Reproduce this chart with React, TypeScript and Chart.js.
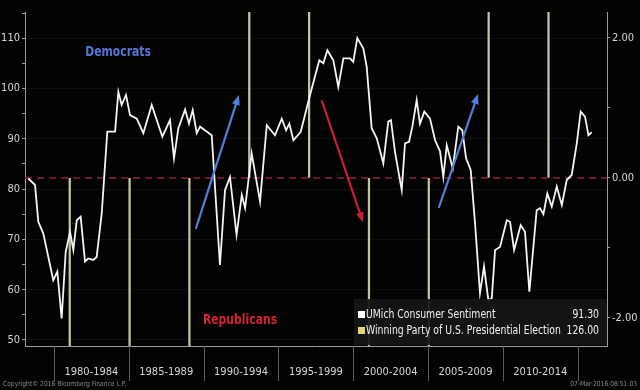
import React, { useEffect, useRef } from "react";
import { Chart, registerables } from "chart.js";

Chart.register(...registerables);

// ---- Data ----
const sentimentYears = [
  1978.28, 1978.73, 1978.95, 1979.28, 1979.95, 1980.22, 1980.51, 1980.78, 1981.07, 1981.29,
  1981.52, 1981.78, 1982.07, 1982.29, 1982.63, 1982.85, 1983.19, 1983.56, 1984.08, 1984.3,
  1984.52, 1984.81, 1985.08, 1985.53, 1985.97, 1986.53, 1987.24, 1987.75, 1988.02, 1988.31,
  1988.76, 1989.02, 1989.27, 1989.54, 1989.76, 1990.54, 1991.09, 1991.43, 1991.76, 1992.2,
  1992.55, 1992.77, 1993.21, 1993.77, 1994.22, 1994.77, 1995.22, 1995.51, 1995.73, 1996.0,
  1996.49, 1997.11, 1997.73, 1998.0, 1998.27, 1998.67, 1999.0, 1999.34, 1999.78, 2000.0,
  2000.27, 2000.67, 2000.9, 2001.23, 2001.57, 2002.01, 2002.34, 2002.52, 2002.79, 2003.24,
  2003.46, 2003.73, 2003.95, 2004.24, 2004.46, 2004.75, 2005.13, 2005.47, 2005.8, 2006.02,
  2006.25, 2006.65, 2007.02, 2007.29, 2007.54, 2007.85, 2008.14, 2008.47, 2008.74, 2009.03,
  2009.26, 2009.48, 2009.81, 2010.26, 2010.48, 2010.75, 2011.19, 2011.48, 2011.77, 2012.26,
  2012.48, 2012.71, 2012.97, 2013.27, 2013.6, 2013.94, 2014.27, 2014.6, 2014.94, 2015.2,
  2015.49, 2015.72, 2015.94,
];
const sentimentValues = [
  82.1, 80.8, 73.5, 71.2, 61.9, 63.6, 54.3, 67.5, 71.5, 67.9,
  73.8, 74.5, 65.6, 66.2, 65.9, 66.5, 75.2, 91.4, 91.4, 99.3,
  96.7, 98.7, 94.7, 94.0, 91.1, 96.7, 90.4, 93.7, 86.1, 92.1,
  95.8, 93.0, 95.7, 91.1, 92.4, 90.7, 64.9, 79.8, 82.4, 70.9,
  78.8, 76.2, 87.1, 77.5, 92.7, 90.7, 94.0, 91.7, 93.0, 89.7,
  91.4, 98.7, 105.6, 105.0, 107.6, 105.6, 100.3, 106.0, 106.0, 105.3,
  110.0, 108.0, 104.3, 92.1, 90.1, 85.1, 93.4, 93.7, 87.4, 79.8,
  89.1, 89.4, 92.4, 97.7, 93.0, 95.4, 94.0, 89.7, 87.5, 82.4,
  88.7, 84.1, 92.4, 91.7, 86.1, 83.8, 73.2, 59.3, 64.6, 57.9,
  58.3, 67.9, 68.5, 73.8, 73.5, 67.9, 72.8, 71.5, 59.6, 75.8,
  76.2, 75.0, 79.1, 76.5, 80.5, 76.8, 81.8, 82.8, 89.1, 95.4,
  94.4, 90.7, 91.3,
];
const electionYears = [1981.05, 1985.05, 1989.05, 1993.05, 1997.05, 2001.05, 2005.05, 2009.05, 2013.05];
const winningParty = ["R", "R", "R", "D", "D", "R", "R", "D", "D"];
const periodSeparators = [1980, 1985, 1990, 1995, 2000, 2005, 2010, 2015];
const periodLabels = ["1980-1984", "1985-1989", "1990-1994", "1995-1999", "2000-2004", "2005-2009", "2010-2014"];
const periodCenters = [1982.5, 1987.5, 1992.5, 1997.5, 2002.5, 2007.5, 2012.5];
const leftTicks = [50, 55, 60, 65, 70, 75, 80, 85, 90, 95, 100, 105, 110, 115];
const rightTicks = [-2, -1, 0, 1, 2];
const legendLabels = ["UMich Consumer Sentiment", "Winning Party of U.S. Presidential Election"];
const legendValues = ["91.30", "126.00"];
// arrows in data coordinates: [x1, y1, x2, y2] (y on left axis)
const blueArrows = [
  [1989.49, 72.25, 1992.36, 98.7],
  [2005.73, 76.4, 2008.34, 98.9],
];
const redArrows = [[1997.91, 97.5, 2000.65, 73.4]];
const partyLabels = [
  { text: "Democrats", x: 1984.28, y: 107.2, color: "#5574d6" },
  { text: "Republicans", x: 1992.43, y: 53.8, color: "#d42234" },
];

const X_MIN = 1978.06;
const X_MAX = 2016.96;
const FONT = "'DejaVu Sans Condensed', 'Liberation Sans Narrow', sans-serif";

function drawArrow(ctx: CanvasRenderingContext2D, x1: number, y1: number, x2: number, y2: number, color: string) {
  const ang = Math.atan2(y2 - y1, x2 - x1);
  const head = 10;
  const hw = 4;
  ctx.save();
  ctx.strokeStyle = color;
  ctx.fillStyle = color;
  ctx.lineWidth = 2.2;
  ctx.lineCap = "round";
  ctx.beginPath();
  ctx.moveTo(x1, y1);
  ctx.lineTo(x2 - Math.cos(ang) * head * 0.8, y2 - Math.sin(ang) * head * 0.8);
  ctx.stroke();
  ctx.beginPath();
  ctx.moveTo(x2, y2);
  ctx.lineTo(x2 - Math.cos(ang) * head - Math.sin(ang) * hw, y2 - Math.sin(ang) * head + Math.cos(ang) * hw);
  ctx.lineTo(x2 - Math.cos(ang) * head + Math.sin(ang) * hw, y2 - Math.sin(ang) * head - Math.cos(ang) * hw);
  ctx.closePath();
  ctx.fill();
  ctx.restore();
}

// draw horizontally condensed text (mimics the narrow terminal font)
function narrowText(ctx: CanvasRenderingContext2D, text: string, x: number, y: number, align: CanvasTextAlign, sx: number) {
  ctx.save();
  ctx.translate(x, y);
  ctx.scale(sx, 1);
  ctx.textAlign = align;
  ctx.fillText(text, 0, 0);
  ctx.restore();
}

const decorPlugin = {
  id: "decor",
  beforeDraw(chart: any) {
    const ctx = chart.ctx;
    ctx.save();
    ctx.fillStyle = "#030303";
    ctx.fillRect(0, 0, chart.width, chart.height);
    ctx.restore();
  },
  afterDatasetsDraw(chart: any) {
    const ctx = chart.ctx as CanvasRenderingContext2D;
    const xs = chart.scales.x;
    const ys = chart.scales.y;
    const ca = chart.chartArea;
    blueArrows.forEach((a) =>
      drawArrow(ctx, xs.getPixelForValue(a[0]), ys.getPixelForValue(a[1]), xs.getPixelForValue(a[2]), ys.getPixelForValue(a[3]), "#4f7fd9")
    );
    redArrows.forEach((a) =>
      drawArrow(ctx, xs.getPixelForValue(a[0]), ys.getPixelForValue(a[1]), xs.getPixelForValue(a[2]), ys.getPixelForValue(a[3]), "#c81e3c")
    );
    ctx.save();
    ctx.font = `bold 14px ${FONT}`;
    ctx.textBaseline = "middle";
    partyLabels.forEach((p) => {
      ctx.fillStyle = p.color;
      narrowText(ctx, p.text, xs.getPixelForValue(p.x), ys.getPixelForValue(p.y), "center", 0.86);
    });
    ctx.restore();

    // legend box
    ctx.save();
    const bw = 253;
    const bh = 47;
    const bx = ca.right - bw;
    const by = ca.bottom - bh;
    ctx.fillStyle = "rgba(22,22,22,0.92)";
    ctx.fillRect(bx, by, bw, bh - 1);
    ctx.font = `12px ${FONT}`;
    ctx.textBaseline = "middle";
    const colors = ["#ffffff", "#e6d27a"];
    legendLabels.forEach((lab, i) => {
      const cy = by + 16 + i * 16;
      ctx.fillStyle = colors[i];
      ctx.fillRect(bx + 4, cy - 4, 7, 7);
      ctx.fillStyle = "#f0f0f0";
      narrowText(ctx, lab, bx + 12, cy, "left", 0.86);
      narrowText(ctx, legendValues[i], bx + bw - 8, cy, "right", 0.86);
    });
    ctx.restore();
  },
  afterDraw(chart: any) {
    const ctx = chart.ctx as CanvasRenderingContext2D;
    const xs = chart.scales.x;
    const ca = chart.chartArea;
    ctx.save();
    ctx.strokeStyle = "#5c5c5c";
    ctx.lineWidth = 1;
    periodSeparators.forEach((v) => {
      const px = Math.round(xs.getPixelForValue(v)) + 0.5;
      ctx.beginPath();
      ctx.moveTo(px, ca.bottom);
      ctx.lineTo(px, ca.bottom + 35);
      ctx.stroke();
    });
    ctx.font = `7px ${FONT}`;
    ctx.fillStyle = "#8a8a8a";
    ctx.textBaseline = "middle";
    narrowText(ctx, "Copyright\u00a9 2016 Bloomberg Finance L.P.", 3, 384, "left", 0.95);
    narrowText(ctx, "07-Mar-2016 08:51:03", 637, 384, "right", 0.95);
    ctx.restore();
  },
};

export default function App() {
  const ref = useRef<HTMLCanvasElement | null>(null);
  useEffect(() => {
    document.body.style.margin = "0";
    document.body.style.background = "#030303";
    if (!ref.current) return;
    const chart = new Chart(ref.current, {
      type: "line",
      data: {
        datasets: [
          {
            type: "line",
            label: legendLabels[0],
            data: sentimentYears.map((x, i) => ({ x, y: sentimentValues[i] })),
            borderColor: "#f4f4f4",
            borderWidth: 1.8,
            pointRadius: 0,
            tension: 0,
            yAxisID: "y",
            order: 0,
          },
          {
            type: "line",
            label: "zero",
            data: [
              { x: X_MIN, y: 0 },
              { x: X_MAX, y: 0 },
            ],
            borderColor: "#8c2236",
            borderWidth: 1.5,
            borderDash: [7, 5],
            pointRadius: 0,
            yAxisID: "y2",
            order: 1,
          },
          {
            type: "bar",
            label: legendLabels[1],
            data: electionYears.map((x, i) => ({ x, y: winningParty[i] === "D" ? 5 : -5 })),
            backgroundColor: "#c9c1a4",
            borderWidth: 0,
            barThickness: 1.6,
            yAxisID: "y2",
            order: 2,
          } as any,
        ],
      },
      options: {
        animation: false,
        responsive: false,
        devicePixelRatio: 1,
        layout: { padding: { top: 12, left: 0, right: 0, bottom: 0 } },
        plugins: { legend: { display: false }, tooltip: { enabled: false } },
        scales: {
          x: {
            type: "linear",
            min: X_MIN,
            max: X_MAX,
            offset: false,
            afterBuildTicks: (s: any) => {
              s.ticks = periodCenters.map((v) => ({ value: v }));
            },
            afterFit: (s: any) => {
              s.height = 44;
            },
            grid: { display: false, drawTicks: false },
            border: { display: true, color: "#9a9a9a", width: 1 },
            ticks: {
              autoSkip: false,
              maxRotation: 0,
              padding: 20,
              color: "#d4d4d4",
              font: { family: FONT, size: 11 },
              callback: (v: any) => {
                const i = periodCenters.indexOf(Number(v));
                return i >= 0 ? periodLabels[i] : "";
              },
            },
          },
          y: {
            type: "linear",
            position: "left",
            min: 48.8,
            max: 115.2,
            afterBuildTicks: (s: any) => {
              s.ticks = leftTicks.map((v) => ({ value: v }));
            },
            afterFit: (s: any) => {
              s.width = 25;
            },
            grid: {
              drawOnChartArea: true,
              color: (c: any) => (c.tick && c.tick.value % 10 === 0 ? "rgba(255,255,255,0.05)" : "rgba(0,0,0,0)"),
              tickColor: "#9a9a9a",
              tickLength: 3,
            },
            border: { display: true, color: "#9a9a9a", width: 1 },
            ticks: {
              padding: 2,
              color: "#d4d4d4",
              font: { family: FONT, size: 11 },
              callback: (v: any) => (Number(v) % 10 === 0 ? String(v) : ""),
            },
          },
          y2: {
            type: "linear",
            position: "right",
            min: -2.4,
            max: 2.37,
            afterBuildTicks: (s: any) => {
              s.ticks = rightTicks.map((v) => ({ value: v }));
            },
            afterFit: (s: any) => {
              s.width = 33;
            },
            grid: { drawOnChartArea: false, tickColor: "#9a9a9a", tickLength: 3 },
            border: { display: true, color: "#9a9a9a", width: 1 },
            ticks: {
              padding: 2,
              color: "#d4d4d4",
              font: { family: FONT, size: 11 },
              callback: (v: any) => (Math.abs(Number(v)) === 1 ? "" : Number(v).toFixed(2)),
            },
          },
        },
      },
      plugins: [decorPlugin],
    } as any);
    return () => chart.destroy();
  }, []);
  return (
    <div style={{ width: 640, height: 390, background: "#030303" }}>
      <canvas ref={ref} width={640} height={390} style={{ display: "block" }} />
    </div>
  );
}
